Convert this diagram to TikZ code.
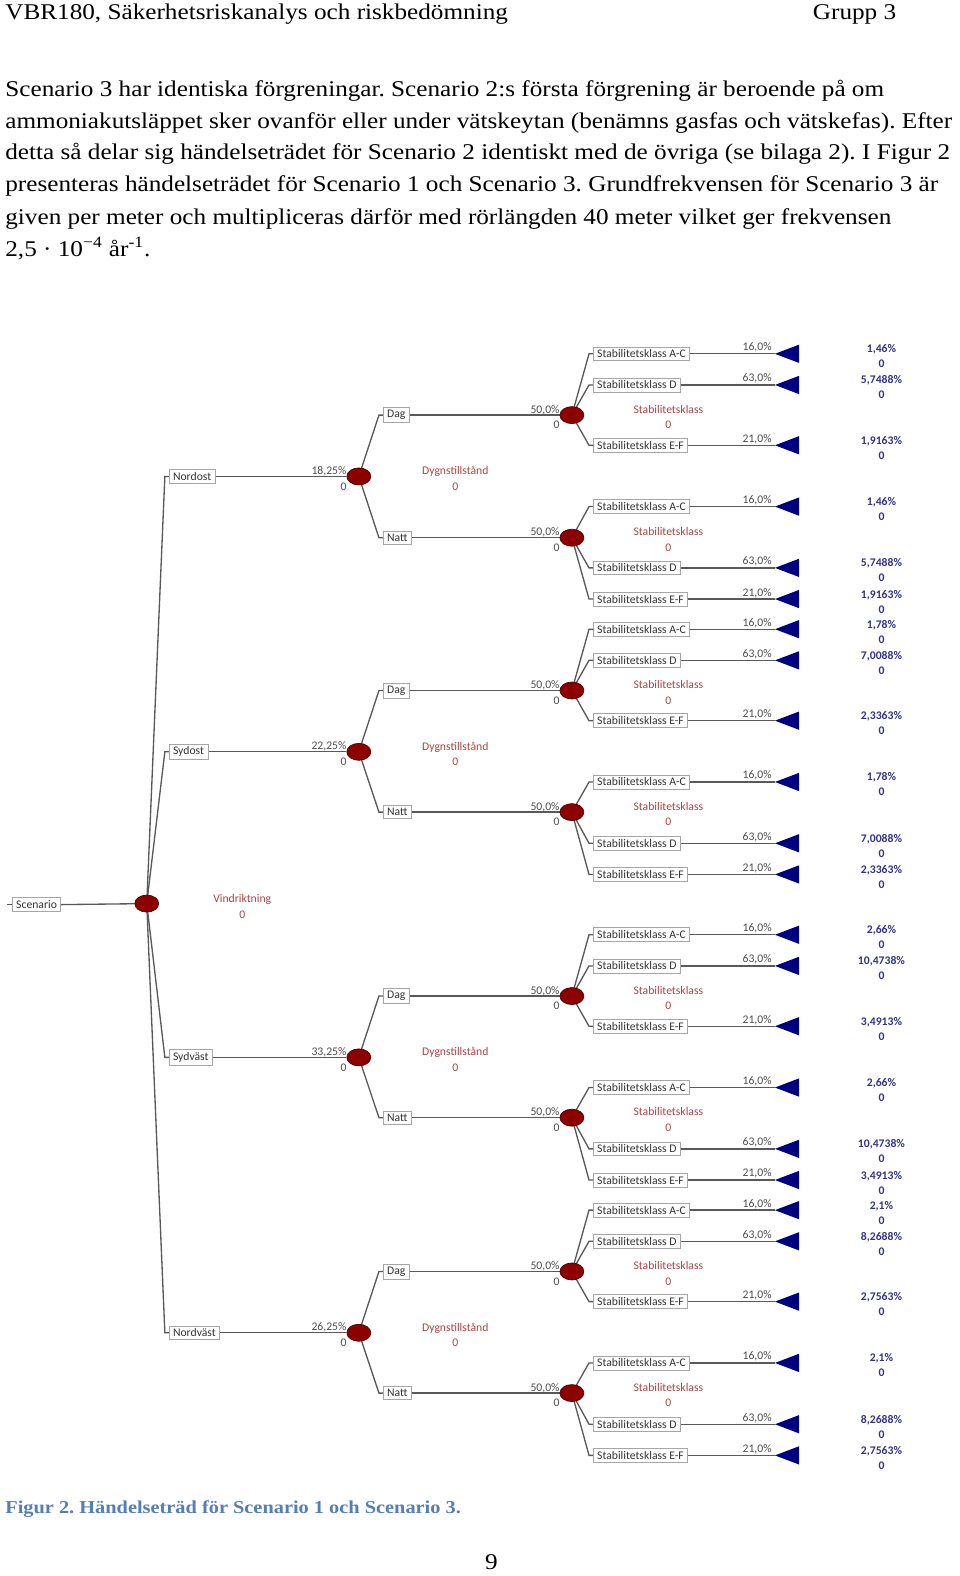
\documentclass[tikz,border=0pt]{standalone}
\usepackage{fontspec}
\setmainfont{Liberation Serif}[FakeStretch=1.12]
\newfontfamily\treefont{Carlito}
\usepackage{tikz}
\usetikzlibrary{shapes.geometric,backgrounds}
\frenchspacing

\definecolor{chancered}{RGB}{140,0,0}
\definecolor{chanceline}{RGB}{80,0,0}
\definecolor{endnavy}{RGB}{0,0,128}
\definecolor{valnavy}{RGB}{50,50,140}
\definecolor{decred}{RGB}{175,65,65}
\definecolor{capblue}{RGB}{84,125,185}

\begin{document}
\begin{tikzpicture}[x=0.603pt, y=-0.603pt,
  body/.style={anchor=base west, inner sep=0pt, font=\fontsize{13.5}{16}\selectfont},
  lbox/.style={draw=black!35, fill=white, anchor=west, inner xsep=2.3pt, inner ysep=1.7pt, text=black!80, font=\treefont\fontsize{7}{8}\selectfont},
  chance/.style={ellipse, draw=chanceline, fill=chancered, minimum width=14.4pt, minimum height=10.2pt, inner sep=0pt},
  prob/.style={anchor=east, align=right, inner sep=0pt, text=black!70, font=\treefont\fontsize{7}{9.4}\selectfont},
  lpct/.style={anchor=base east, inner sep=0pt, text=black!70, font=\treefont\fontsize{7}{8}\selectfont},
  dec/.style={align=center, inner sep=0pt, text=decred, font=\treefont\fontsize{7}{9.4}\selectfont},
  val/.style={align=center, inner sep=0pt, text=valnavy, font=\treefont\bfseries\fontsize{7}{9}\selectfont},
  branch/.style={draw=black!65, line width=0.8pt},
  endtri/.style={fill=endnavy}]
\useasboundingbox (0,0) rectangle (955,1568);

\node[body] (hdr) at (5,19) {VBR180, Säkerhetsriskanalys och riskbedömning};
\node[body, anchor=base east] (grp) at (892,19) {Grupp 3};
\node[body] (p1) at (5,96) {Scenario 3 har identiska förgreningar. Scenario 2:s första förgrening är beroende på om};
\node[body] (p2) at (5,128) {ammoniakutsläppet sker ovanför eller under vätskeytan (benämns gasfas och vätskefas). Efter};
\node[body] (p3) at (5,159) {detta så delar sig händelseträdet för Scenario 2 identiskt med de övriga (se bilaga 2). I Figur 2};
\node[body] (p4) at (5,191) {presenteras händelseträdet för Scenario 1 och Scenario 3. Grundfrekvensen för Scenario 3 är};
\node[body] (p5) at (5,223) {given per meter och multipliceras därför med rörlängden 40 meter vilket ger frekvensen};
\node[body] (p6) at (5,255) {2,5 · 10\textsuperscript{−4} år\textsuperscript{-1}.};

\node[lbox] (scen) at (12,900) {Scenario};
\coordinate (start) at (7,900);
\node[chance] (vind) at (146,899) {};
\node[dec] (vind-lbl) at (241,902) {Vindriktning\\0};

\node[lbox] (ne) at (168,474) {Nordost};
\node[chance] (ne-c) at (357,474) {};
\node[prob] (ne-p) at (345,476) {18,25\%\\0};
\node[dec] (ne-lbl) at (453,476) {Dygnstillstånd\\0};
\node[lbox] (ne-dag) at (381,413) {Dag};
\node[lbox] (ne-natt) at (381,535) {Natt};

\node[lbox] (se) at (168,748) {Sydost};
\node[chance] (se-c) at (357,748) {};
\node[prob] (se-p) at (345,750) {22,25\%\\0};
\node[dec] (se-lbl) at (453,750) {Dygnstillstånd\\0};
\node[lbox] (se-dag) at (381,687) {Dag};
\node[lbox] (se-natt) at (381,808) {Natt};

\node[lbox] (sw) at (168,1052) {Sydväst};
\node[chance] (sw-c) at (357,1052) {};
\node[prob] (sw-p) at (345,1054) {33,25\%\\0};
\node[dec] (sw-lbl) at (453,1054) {Dygnstillstånd\\0};
\node[lbox] (sw-dag) at (381,991) {Dag};
\node[lbox] (sw-natt) at (381,1112) {Natt};

\node[lbox] (nw) at (168,1326) {Nordväst};
\node[chance] (nw-c) at (357,1326) {};
\node[prob] (nw-p) at (345,1328) {26,25\%\\0};
\node[dec] (nw-lbl) at (453,1328) {Dygnstillstånd\\0};
\node[lbox] (nw-dag) at (381,1265) {Dag};
\node[lbox] (nw-natt) at (381,1386) {Natt};

\node[chance] (ne-dag-c) at (569,413) {};
\node[prob] (ne-dag-p) at (557,415) {50,0\%\\0};
\node[dec] (ne-dag-lbl) at (665,415) {Stabilitetsklass\\0};
\node[lbox] (ne-dag-ac) at (590,352) {Stabilitetsklass A-C};
\node[lbox] (ne-dag-d) at (590,383) {Stabilitetsklass D};
\node[lbox] (ne-dag-ef) at (590,443) {Stabilitetsklass E-F};
\node[lpct] (ne-dag-ac-p) at (768,349) {16,0\%};
\node[lpct] (ne-dag-d-p) at (768,380) {63,0\%};
\node[lpct] (ne-dag-ef-p) at (768,440) {21,0\%};
\coordinate (ne-dag-ac-t) at (771,352);
\coordinate (ne-dag-d-t) at (771,383);
\coordinate (ne-dag-ef-t) at (771,443);
\node[val] (ne-dag-ac-v) at (877,354.5) {1,46\%\\0};
\node[val] (ne-dag-d-v) at (877,385.5) {5,7488\%\\0};
\node[val] (ne-dag-ef-v) at (877,445.5) {1,9163\%\\0};

\node[chance] (ne-natt-c) at (569,535) {};
\node[prob] (ne-natt-p) at (557,537) {50,0\%\\0};
\node[dec] (ne-natt-lbl) at (665,537) {Stabilitetsklass\\0};
\node[lbox] (ne-natt-ac) at (590,504) {Stabilitetsklass A-C};
\node[lbox] (ne-natt-d) at (590,565) {Stabilitetsklass D};
\node[lbox] (ne-natt-ef) at (590,596) {Stabilitetsklass E-F};
\node[lpct] (ne-natt-ac-p) at (768,501) {16,0\%};
\node[lpct] (ne-natt-d-p) at (768,562) {63,0\%};
\node[lpct] (ne-natt-ef-p) at (768,593) {21,0\%};
\coordinate (ne-natt-ac-t) at (771,504);
\coordinate (ne-natt-d-t) at (771,565);
\coordinate (ne-natt-ef-t) at (771,596);
\node[val] (ne-natt-ac-v) at (877,506.5) {1,46\%\\0};
\node[val] (ne-natt-d-v) at (877,567.5) {5,7488\%\\0};
\node[val] (ne-natt-ef-v) at (877,598.5) {1,9163\%\\0};

\node[chance] (se-dag-c) at (569,687) {};
\node[prob] (se-dag-p) at (557,689) {50,0\%\\0};
\node[dec] (se-dag-lbl) at (665,689) {Stabilitetsklass\\0};
\node[lbox] (se-dag-ac) at (590,626) {Stabilitetsklass A-C};
\node[lbox] (se-dag-d) at (590,657) {Stabilitetsklass D};
\node[lbox] (se-dag-ef) at (590,717) {Stabilitetsklass E-F};
\node[lpct] (se-dag-ac-p) at (768,623) {16,0\%};
\node[lpct] (se-dag-d-p) at (768,654) {63,0\%};
\node[lpct] (se-dag-ef-p) at (768,714) {21,0\%};
\coordinate (se-dag-ac-t) at (771,626);
\coordinate (se-dag-d-t) at (771,657);
\coordinate (se-dag-ef-t) at (771,717);
\node[val] (se-dag-ac-v) at (877,628.5) {1,78\%\\0};
\node[val] (se-dag-d-v) at (877,659.5) {7,0088\%\\0};
\node[val] (se-dag-ef-v) at (877,719.5) {2,3363\%\\0};

\node[chance] (se-natt-c) at (569,808) {};
\node[prob] (se-natt-p) at (557,810) {50,0\%\\0};
\node[dec] (se-natt-lbl) at (665,810) {Stabilitetsklass\\0};
\node[lbox] (se-natt-ac) at (590,778) {Stabilitetsklass A-C};
\node[lbox] (se-natt-d) at (590,839) {Stabilitetsklass D};
\node[lbox] (se-natt-ef) at (590,870) {Stabilitetsklass E-F};
\node[lpct] (se-natt-ac-p) at (768,775) {16,0\%};
\node[lpct] (se-natt-d-p) at (768,836) {63,0\%};
\node[lpct] (se-natt-ef-p) at (768,867) {21,0\%};
\coordinate (se-natt-ac-t) at (771,778);
\coordinate (se-natt-d-t) at (771,839);
\coordinate (se-natt-ef-t) at (771,870);
\node[val] (se-natt-ac-v) at (877,780.5) {1,78\%\\0};
\node[val] (se-natt-d-v) at (877,841.5) {7,0088\%\\0};
\node[val] (se-natt-ef-v) at (877,872.5) {2,3363\%\\0};

\node[chance] (sw-dag-c) at (569,991) {};
\node[prob] (sw-dag-p) at (557,993) {50,0\%\\0};
\node[dec] (sw-dag-lbl) at (665,993) {Stabilitetsklass\\0};
\node[lbox] (sw-dag-ac) at (590,930) {Stabilitetsklass A-C};
\node[lbox] (sw-dag-d) at (590,961) {Stabilitetsklass D};
\node[lbox] (sw-dag-ef) at (590,1021) {Stabilitetsklass E-F};
\node[lpct] (sw-dag-ac-p) at (768,927) {16,0\%};
\node[lpct] (sw-dag-d-p) at (768,958) {63,0\%};
\node[lpct] (sw-dag-ef-p) at (768,1018) {21,0\%};
\coordinate (sw-dag-ac-t) at (771,930);
\coordinate (sw-dag-d-t) at (771,961);
\coordinate (sw-dag-ef-t) at (771,1021);
\node[val] (sw-dag-ac-v) at (877,932.5) {2,66\%\\0};
\node[val] (sw-dag-d-v) at (877,963.5) {10,4738\%\\0};
\node[val] (sw-dag-ef-v) at (877,1023.5) {3,4913\%\\0};

\node[chance] (sw-natt-c) at (569,1112) {};
\node[prob] (sw-natt-p) at (557,1114) {50,0\%\\0};
\node[dec] (sw-natt-lbl) at (665,1114) {Stabilitetsklass\\0};
\node[lbox] (sw-natt-ac) at (590,1082) {Stabilitetsklass A-C};
\node[lbox] (sw-natt-d) at (590,1143) {Stabilitetsklass D};
\node[lbox] (sw-natt-ef) at (590,1174) {Stabilitetsklass E-F};
\node[lpct] (sw-natt-ac-p) at (768,1079) {16,0\%};
\node[lpct] (sw-natt-d-p) at (768,1140) {63,0\%};
\node[lpct] (sw-natt-ef-p) at (768,1171) {21,0\%};
\coordinate (sw-natt-ac-t) at (771,1082);
\coordinate (sw-natt-d-t) at (771,1143);
\coordinate (sw-natt-ef-t) at (771,1174);
\node[val] (sw-natt-ac-v) at (877,1084.5) {2,66\%\\0};
\node[val] (sw-natt-d-v) at (877,1145.5) {10,4738\%\\0};
\node[val] (sw-natt-ef-v) at (877,1176.5) {3,4913\%\\0};

\node[chance] (nw-dag-c) at (569,1265) {};
\node[prob] (nw-dag-p) at (557,1267) {50,0\%\\0};
\node[dec] (nw-dag-lbl) at (665,1267) {Stabilitetsklass\\0};
\node[lbox] (nw-dag-ac) at (590,1204) {Stabilitetsklass A-C};
\node[lbox] (nw-dag-d) at (590,1235) {Stabilitetsklass D};
\node[lbox] (nw-dag-ef) at (590,1295) {Stabilitetsklass E-F};
\node[lpct] (nw-dag-ac-p) at (768,1201) {16,0\%};
\node[lpct] (nw-dag-d-p) at (768,1232) {63,0\%};
\node[lpct] (nw-dag-ef-p) at (768,1292) {21,0\%};
\coordinate (nw-dag-ac-t) at (771,1204);
\coordinate (nw-dag-d-t) at (771,1235);
\coordinate (nw-dag-ef-t) at (771,1295);
\node[val] (nw-dag-ac-v) at (877,1206.5) {2,1\%\\0};
\node[val] (nw-dag-d-v) at (877,1237.5) {8,2688\%\\0};
\node[val] (nw-dag-ef-v) at (877,1297.5) {2,7563\%\\0};

\node[chance] (nw-natt-c) at (569,1386) {};
\node[prob] (nw-natt-p) at (557,1388) {50,0\%\\0};
\node[dec] (nw-natt-lbl) at (665,1388) {Stabilitetsklass\\0};
\node[lbox] (nw-natt-ac) at (590,1356) {Stabilitetsklass A-C};
\node[lbox] (nw-natt-d) at (590,1417) {Stabilitetsklass D};
\node[lbox] (nw-natt-ef) at (590,1448) {Stabilitetsklass E-F};
\node[lpct] (nw-natt-ac-p) at (768,1353) {16,0\%};
\node[lpct] (nw-natt-d-p) at (768,1414) {63,0\%};
\node[lpct] (nw-natt-ef-p) at (768,1445) {21,0\%};
\coordinate (nw-natt-ac-t) at (771,1356);
\coordinate (nw-natt-d-t) at (771,1417);
\coordinate (nw-natt-ef-t) at (771,1448);
\node[val] (nw-natt-ac-v) at (877,1358.5) {2,1\%\\0};
\node[val] (nw-natt-d-v) at (877,1419.5) {8,2688\%\\0};
\node[val] (nw-natt-ef-v) at (877,1450.5) {2,7563\%\\0};

\foreach \t in {ne-dag-ac-t,ne-dag-d-t,ne-dag-ef-t,ne-natt-ac-t,ne-natt-d-t,ne-natt-ef-t,
                se-dag-ac-t,se-dag-d-t,se-dag-ef-t,se-natt-ac-t,se-natt-d-t,se-natt-ef-t,
                sw-dag-ac-t,sw-dag-d-t,sw-dag-ef-t,sw-natt-ac-t,sw-natt-d-t,sw-natt-ef-t,
                nw-dag-ac-t,nw-dag-d-t,nw-dag-ef-t,nw-natt-ac-t,nw-natt-d-t,nw-natt-ef-t}
  \fill[endtri] (\t) -- ++(14.5pt,5.5pt) -- ++(0,-11pt) -- cycle;

\begin{scope}[on background layer]
\draw[branch] (start) -- (scen.west);
\draw[branch] (scen.east) -- (vind);
\foreach \w in {ne,se,sw,nw} {
  \draw[branch] (vind.center) -- ([xshift=-2.4pt]\w.west) -- (\w.west);
  \draw[branch] (\w.east) -- (\w-c);
  \foreach \d in {dag,natt} {
    \draw[branch] (\w-c.center) -- ([xshift=-2.4pt]\w-\d.west) -- (\w-\d.west);
    \draw[branch] (\w-\d.east) -- (\w-\d-c);
    \foreach \s in {ac,d,ef} {
      \draw[branch] (\w-\d-c.center) -- ([xshift=-2.4pt]\w-\d-\s.west) -- (\w-\d-\s.west);
      \draw[branch] (\w-\d-\s.east) -- (\w-\d-\s-t);
    }
  }
}
\end{scope}

\node[body, font=\bfseries\fontsize{10.9}{13}\selectfont, text=capblue] (cap) at (5,1506) {Figur 2. Händelseträd för Scenario 1 och Scenario 3.};
\node[body, anchor=base] (pnum) at (489,1562) {9};
\end{tikzpicture}
\end{document}
